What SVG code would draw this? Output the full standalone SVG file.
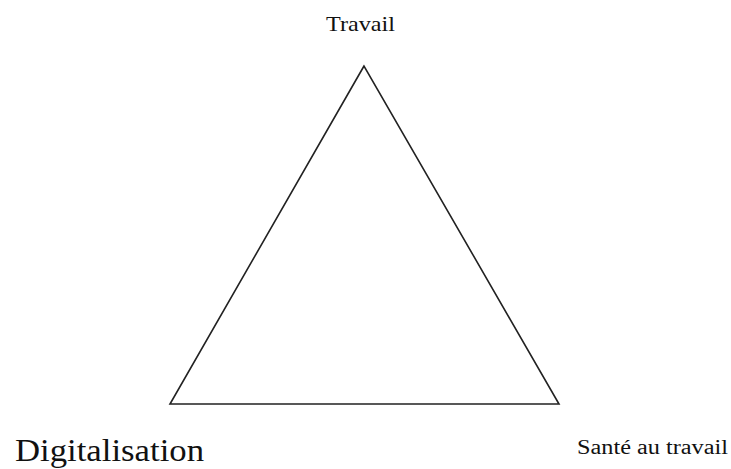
<svg xmlns="http://www.w3.org/2000/svg" width="731" height="469" viewBox="0 0 731 469">
<style>
.lbl{font-family:"Liberation Serif","DejaVu Serif",serif;fill:#111}
.edge{fill:none;stroke:#222;stroke-width:1.6;stroke-linejoin:miter}
</style>
<rect width="731" height="469" fill="#fff"/>
<g id="connectors">
<path class="edge" d="M364,66 L170,404 L559,404 Z"/>
</g>
<g id="travail"><text class="lbl" x="326" y="31" font-size="21" textLength="69" lengthAdjust="spacingAndGlyphs">Travail</text></g>
<g id="digitalisation"><text class="lbl" x="15" y="461" font-size="31" textLength="189" lengthAdjust="spacingAndGlyphs">Digitalisation</text></g>
<g id="sante"><text class="lbl" x="577" y="454" font-size="20" textLength="151" lengthAdjust="spacingAndGlyphs">Santé au travail</text></g>
</svg>
